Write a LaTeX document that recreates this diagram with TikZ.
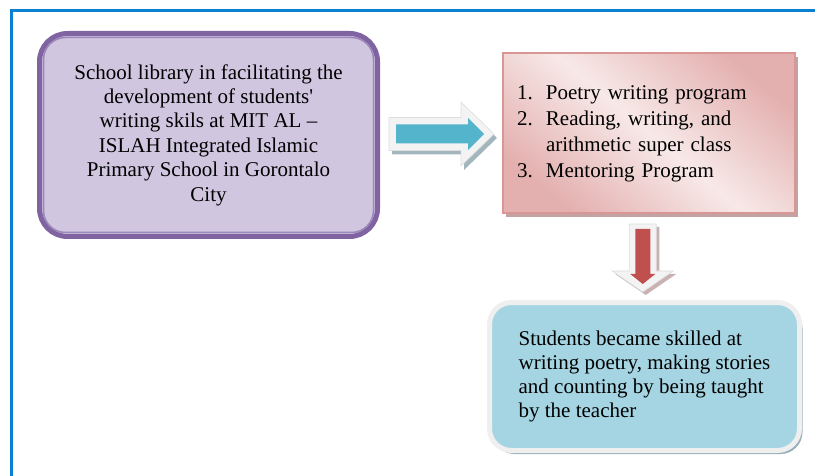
\documentclass[tikz,border=0pt]{standalone}
\usepackage{fontspec}
\setmainfont{Liberation Serif}
\usetikzlibrary{calc, shadows, positioning}

\definecolor{framecol}{HTML}{0A80D0}
\definecolor{libborder}{HTML}{8064A2}
\definecolor{libfill}{HTML}{D0C6E0}
\definecolor{libinner}{HTML}{9C86BA}
\definecolor{progdark}{HTML}{E3B0AF}
\definecolor{proglight}{HTML}{F7E9E8}
\definecolor{progborder}{HTML}{D99694}
\definecolor{progshadow}{HTML}{C2A3A3}
\definecolor{resfill}{HTML}{A5D5E3}
\definecolor{resborder}{HTML}{EFEFEF}
\definecolor{resshadow}{HTML}{97AFB9}
\definecolor{cyanarrow}{HTML}{54B4CC}
\definecolor{redarrow}{HTML}{C0504D}
\definecolor{arrowbevel}{HTML}{F3F3F3}
\definecolor{arrowedge}{HTML}{DDDDDD}
\definecolor{cyanshadow}{HTML}{A3B6BE}
\definecolor{redshadow}{HTML}{C9B2B2}

\begin{document}
\begin{tikzpicture}[x=1pt, y=-1pt,
    % Node styles
    library box/.style={
        draw=libborder, line width=5pt, fill=libfill, rounded corners=28pt,
        minimum width=338pt, minimum height=203pt, inner sep=0pt,
        align=center, font=\fontsize{21}{24.4}\selectfont,
      },
    program box/.style={
        draw=progborder, line width=2pt,
        top color=progdark, bottom color=progdark, middle color=proglight,
        shading angle=-40,
        drop shadow={shadow xshift=2.5pt, shadow yshift=-4pt, fill=progshadow, opacity=1},
        minimum width=292pt, minimum height=160pt, inner sep=0pt,
        text width=264pt, align=left, font=\fontsize{21}{26}\selectfont,
      },
    result box/.style={
        draw=resborder, line width=5pt, fill=resfill, rounded corners=22pt,
        drop shadow={shadow xshift=3pt, shadow yshift=-3.5pt, fill=resshadow, opacity=1},
        minimum width=310pt, minimum height=148pt, inner sep=0pt,
        align=left, font=\fontsize{21}{23.7}\selectfont,
      },
    % Block arrow styles
    arrow shadow/.style={fill=#1},
    arrow bevel/.style={fill=arrowbevel, draw=arrowedge, line width=0.6pt},
  ]
  \useasboundingbox (0,0) rectangle (815,476);

  % --- Frame ---
  \draw[framecol, line width=3pt] (815,11) -- (11,11) -- (11,476);

  % --- Boxes ---
  \node[library box] (library) at (208.5,135)
    {School library in facilitating the\\
     development of students\textquotesingle\\
     writing skils at MIT AL --\\
     ISLAH Integrated Islamic\\
     Primary School in Gorontalo\\
     City};
  \draw[libinner, line width=1.5pt, rounded corners=22pt]
    ([shift={(6.5,6.5)}]library.north west) rectangle ([shift={(-6.5,-6.5)}]library.south east);

  \node[program box] (program) at (649,133)
    {\begin{tabular}{@{}p{29pt}@{}l@{}}
       1. & Poetry writing program\\
       2. & Reading, writing, and\\
          & arithmetic super class\\
       3. & Mentoring Program
     \end{tabular}};

  \node[result box] (result) at (644.5,376.5)
    {Students became skilled at\\
     writing poetry, making stories\\
     and counting by being taught\\
     by the teacher};

  % --- Block arrows between the boxes ---
  \coordinate (toprogram) at ($(library.east)!0.5!(program.west)$);
  \begin{scope}[shift={(toprogram)}]
    \fill[arrow shadow=cyanshadow] (-49,-12.5) -- (23,-12.5) -- (23,-28) -- (56,4)
      -- (23,36) -- (23,20.5) -- (-49,20.5) -- cycle;
    \draw[arrow bevel] (-52,-16.5) -- (20,-16.5) -- (20,-32) -- (53,0)
      -- (20,32) -- (20,16.5) -- (-52,16.5) -- cycle;
    \fill[cyanarrow] (-45,-9.5) -- (27,-9.5) -- (27,-16) -- (43,0)
      -- (27,16) -- (27,9.5) -- (-45,9.5) -- cycle;
  \end{scope}

  \coordinate (toresult) at ($(program.south)!0.5!(result.north)+(-4,1)$);
  \begin{scope}[shift={(toresult)}]
    \fill[arrow shadow=redshadow] (-10.5,-31) -- (16.5,-31) -- (16.5,16) -- (33.5,16)
      -- (3,37) -- (-27.5,16) -- (-10.5,16) -- cycle;
    \draw[arrow bevel] (-13.5,-34) -- (13.5,-34) -- (13.5,13) -- (30.5,13)
      -- (0,34) -- (-30.5,13) -- (-13.5,13) -- cycle;
    \fill[redarrow] (-7.5,-29) -- (7.5,-29) -- (7.5,16) -- (12.5,16)
      -- (0,26) -- (-12.5,16) -- (-7.5,16) -- cycle;
  \end{scope}
\end{tikzpicture}
\end{document}
